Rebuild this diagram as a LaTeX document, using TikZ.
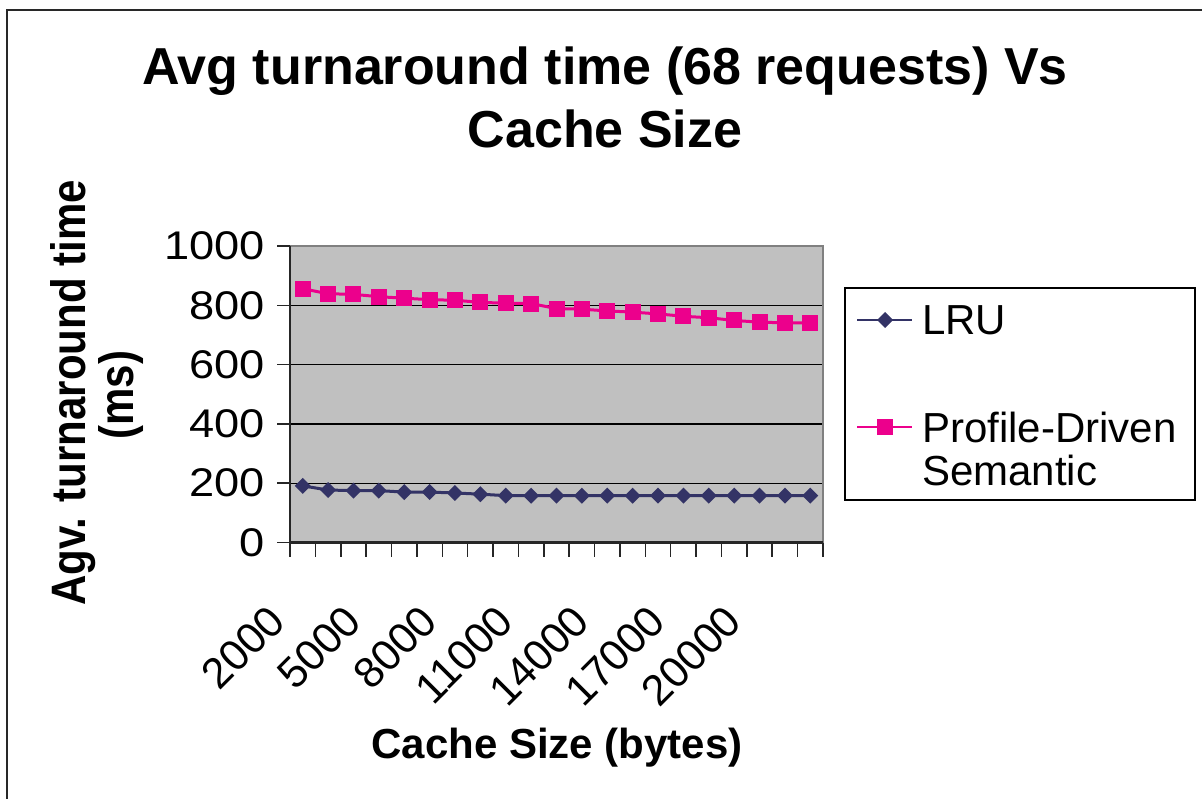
\documentclass[tikz,border=0pt]{standalone}
\usepackage{fontspec}
\setmainfont{Liberation Sans}
\definecolor{lru}{RGB}{51,51,102}
\definecolor{pds}{RGB}{236,0,140}
\definecolor{plotbg}{RGB}{192,192,192}
\definecolor{frame}{RGB}{128,128,128}
\definecolor{outer}{RGB}{40,40,40}
\begin{document}
\begin{tikzpicture}[x=1pt,y=-1pt,
  ttl/.style={font=\fontsize{52}{62}\selectfont\bfseries, inner sep=0pt, anchor=base},
  axt/.style={font=\fontsize{42}{48}\selectfont\bfseries, inner sep=0pt, anchor=base},
  ticklbl/.style={font=\fontsize{40}{46}\selectfont, inner sep=0pt},
  xticklbl/.style={font=\fontsize{43}{46}\selectfont, inner sep=0pt},
  leglbl/.style={font=\fontsize{42}{43}\selectfont, inner sep=0pt, anchor=base west},
  gridline/.style={black, line width=1.3pt},
  lruline/.style={lru, line width=3pt, line join=round},
  pdsline/.style={pds, line width=3pt, line join=round},
  lrumark/.style={fill=lru, draw=none},
  pdsmark/.style={fill=pds, draw=none}]
\useasboundingbox (0,0) rectangle (1202,799);
% outer frame
\draw[outer, line width=2.5pt] (7,799) -- (7,10) -- (1202,10);
% title
\node[ttl] (t1) at (605,85) {Avg turnaround time (68 requests) Vs};
\node[ttl] (t2) at (605,148) {Cache Size};
% axis titles
\node[axt, rotate=90] (yt1) at (85,393) {\scalebox{1}[1.15]{Agv. turnaround time}};
\node[axt, rotate=90] (yt2) at (133,395) {\scalebox{1}[1.15]{(ms)}};
\node[axt] (xt) at (557,758) {Cache Size (bytes)};
% plot area
\begin{scope}[shift={(290pt,-542.5pt)}, x=25.381pt, y=0.2965pt]
  \fill[plotbg] (0,0) rectangle (21,1000);
  \foreach \v in {200,400,600,800} \draw[gridline] (0,\v) -- (21,\v);
  \draw[frame, line width=2.5pt] (0,1000) -- (21,1000) -- (21,0);
  \draw[black!85, line width=2.2pt] (0,1000) -- (0,0) -- (21,0);
  \foreach \v in {0,200,400,600,800,1000} {
    \draw[black!85, line width=1.5pt] (0,\v) -- ++(-13pt,0);
    \node[ticklbl, anchor=east] at ([xshift=-25pt]0,\v) {\scalebox{1.13}[1]{\v}};
  }
  \foreach \i in {0,...,21} \draw[black!85, line width=1.5pt] (\i,0) -- ++(0,-14pt);
  \foreach \i/\lab in {0/2000,3/5000,6/8000,9/11000,12/14000,15/17000,18/20000}
    \node[xticklbl, rotate=45, anchor=east] at ([xshift=-26pt,yshift=-71pt]\i+0.5,0) {\lab};
  % LRU series
  \draw[lruline] plot coordinates {(0.5,191) (1.5,177) (2.5,175) (3.5,175) (4.5,170) (5.5,170) (6.5,167) (7.5,163) (8.5,158) (9.5,158) (10.5,158) (11.5,158) (12.5,158) (13.5,158) (14.5,158) (15.5,158) (16.5,158) (17.5,158) (18.5,158) (19.5,158) (20.5,158)};
  \foreach \x/\v in {0.5/191,1.5/177,2.5/175,3.5/175,4.5/170,5.5/170,6.5/167,7.5/163,8.5/158,9.5/158,10.5/158,11.5/158,12.5/158,13.5/158,14.5/158,15.5/158,16.5/158,17.5/158,18.5/158,19.5/158,20.5/158}
    \fill[lrumark] (\x,\v) ++(-8pt,0) -- ++(8pt,8pt) -- ++(8pt,-8pt) -- ++(-8pt,-8pt) -- cycle;
  % Profile-Driven Semantic series
  \draw[pdsline] plot coordinates {(0.5,856) (1.5,839) (2.5,837) (3.5,829) (4.5,824) (5.5,819) (6.5,817) (7.5,810) (8.5,807) (9.5,806) (10.5,789) (11.5,787) (12.5,781) (13.5,777) (14.5,771) (15.5,763) (16.5,758) (17.5,749) (18.5,743) (19.5,741) (20.5,740)};
  \foreach \x/\v in {0.5/856,1.5/839,2.5/837,3.5/829,4.5/824,5.5/819,6.5/817,7.5/810,8.5/807,9.5/806,10.5/789,11.5/787,12.5/781,13.5/777,14.5/771,15.5/763,16.5/758,17.5/749,18.5/743,19.5/741,20.5/740}
    \fill[pdsmark] (\x,\v) ++(-8pt,-8pt) rectangle ++(16pt,16pt);
\end{scope}
% legend
\draw[black, line width=1.3pt] (845,288) rectangle (1195,500);
\coordinate (l1a) at (857,320);
\coordinate (l1b) at (912,320);
\draw[lru, line width=2pt] (l1a) -- (l1b);
\fill[lrumark] (885,320) ++(-8,0) -- ++(8,-8) -- ++(8,8) -- ++(-8,8) -- cycle;
\node[leglbl] (lg1) at (922,335) {LRU};
\coordinate (l2a) at (857,427);
\coordinate (l2b) at (912,427);
\draw[pds, line width=2pt] (l2a) -- (l2b);
\fill[pdsmark] (877,419) rectangle (893,435);
\node[leglbl] (lg2) at (922,442) {Profile-Driven};
\node[leglbl] (lg3) at (922,485) {Semantic};
\end{tikzpicture}
\end{document}
